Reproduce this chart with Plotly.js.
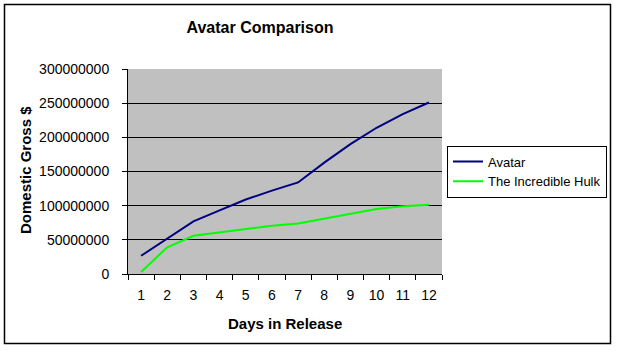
<!DOCTYPE html>
<html>
<head>
<meta charset="utf-8">
<script src="https://cdn.plot.ly/plotly-3.0.1.min.js"></script>
<style>
  html, body { margin: 0; padding: 0; background: #ffffff; }
  #chart { width: 617px; height: 352px; }
</style>
</head>
<body>
<div id="chart"></div>
<script>
var days = ['1','2','3','4','5','6','7','8','9','10','11','12'];
var avatarGross = [26700000, 52300000, 77000000, 93000000, 109000000, 122000000, 134000000, 163000000, 190000000, 214000000, 234000000, 251000000];
var hulkGross = [3000000, 39000000, 56000000, 61000000, 65500000, 70500000, 74000000, 81000000, 88000000, 95000000, 99000000, 101500000];
var seriesNames = ['Avatar', 'The Incredible Hulk'];
var yTickVals = [0, 50000000, 100000000, 150000000, 200000000, 250000000, 300000000];

var W = 617, H = 352;
var L = 128, R = 442, T = 69, B = 274;
function px(x) { return (x - L) / (R - L); }
function py(y) { return (B - y) / (B - T); }

var FONT = 'Liberation Sans, Arial, sans-serif';

var traces = [
  { x: days, y: avatarGross, name: seriesNames[0], type: 'scatter', mode: 'lines',
    line: { color: '#000080', width: 2 } },
  { x: days, y: hulkGross, name: seriesNames[1], type: 'scatter', mode: 'lines',
    line: { color: '#00ff00', width: 2 } }
];

var layout = {
  width: W, height: H,
  margin: { l: L, r: W - R, t: T, b: H - B, pad: 0, autoexpand: false },
  paper_bgcolor: '#ffffff',
  plot_bgcolor: '#c0c0c0',
  font: { family: FONT, size: 14, color: '#000000' },
  title: { text: '<b>Avatar Comparison</b>', font: { family: FONT, size: 16, color: '#000' },
           x: 260 / W, xref: 'container', xanchor: 'center',
           y: 1 - 27 / H, yref: 'container', yanchor: 'middle' },
  xaxis: {
    type: 'category', range: [-0.5, 11.5],
    tickson: 'boundaries', ticks: 'outside', ticklen: 5, tickcolor: '#000', tickwidth: 1,
    showline: true, linecolor: '#000', linewidth: 1,
    showgrid: false, zeroline: false,
    tickfont: { family: FONT, size: 14, color: '#000' },
    ticklabelstandoff: 8
  },
  yaxis: {
    range: [0, 300000000], tickvals: yTickVals, tickformat: 'd',
    ticks: 'outside', ticklen: 5, tickcolor: '#000', tickwidth: 1,
    showline: true, linecolor: '#000', linewidth: 1,
    showgrid: true, gridcolor: '#000', gridwidth: 1,
    zeroline: false,
    tickfont: { family: FONT, size: 14, color: '#000' },
    ticklabelstandoff: 10
  },
  showlegend: true,
  legend: {
    x: px(607), xanchor: 'right', y: py(171.5), yanchor: 'middle',
    bordercolor: '#000', borderwidth: 1, bgcolor: '#ffffff',
    font: { family: FONT, size: 13, color: '#000' },
    itemwidth: 30, tracegroupgap: 0
  },
  annotations: [
    { text: '<b>Domestic Gross $</b>', xref: 'paper', yref: 'paper',
      x: px(25), y: py(170), textangle: -90, showarrow: false,
      xanchor: 'center', yanchor: 'middle',
      font: { family: FONT, size: 15, color: '#000' } },
    { text: '<b>Days in Release</b>', xref: 'paper', yref: 'paper',
      x: px(285), y: py(323), showarrow: false,
      xanchor: 'center', yanchor: 'middle',
      font: { family: FONT, size: 15, color: '#000' } }
  ],
  shapes: [
    { type: 'rect', xref: 'paper', yref: 'paper', layer: 'below',
      x0: px(4.5), x1: px(610.5), y0: py(343.5), y1: py(4.5),
      line: { color: '#000', width: 1.5 }, fillcolor: 'rgba(0,0,0,0)' }
  ]
};

Plotly.newPlot('chart', traces, layout, { displayModeBar: false, staticPlot: true });
</script>
</body>
</html>
